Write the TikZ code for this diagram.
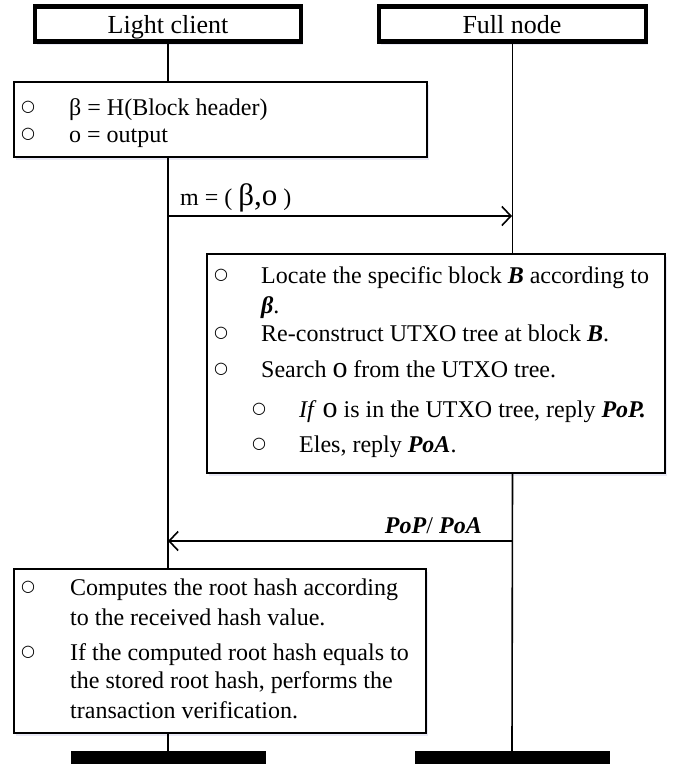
\documentclass[tikz,border=0pt]{standalone}
\usepackage{fontspec}
\setmainfont{Liberation Serif}
\newfontfamily\symfont{DejaVu Sans}
\usetikzlibrary{arrows.meta,shadows}

% bullet glyph and the enlarged "o" used for the output symbol
\newcommand{\bul}{\raisebox{4pt}{\symfont\fontsize{16}{16}\selectfont ○}}
\newcommand{\bigo}{{\fontsize{30}{30}\selectfont o}}
\newcommand{\bi}[1]{\textbf{\textit{#1}}}

\tikzset{
  soft/.style={drop shadow={shadow xshift=2pt,shadow yshift=-3pt,fill=blue!40!gray,opacity=0.12}},
  header/.style={draw,line width=4.4pt,fill=white,soft,inner sep=0pt},
  notebox/.style={draw,line width=1.8pt,fill=white,soft,inner sep=0pt},
  bar/.style={fill=black,inner sep=0pt,minimum width=195pt,minimum height=13pt},
  life/.style={line width=1.6pt},
  msg/.style={line width=1.6pt,-{Straight Barb[length=9pt,width=19pt,line width=1.6pt]}},
  txt/.style={anchor=base west,inner sep=0pt,font=\fontsize{24}{28}\selectfont},
  title/.style={anchor=base,inner sep=0pt,font=\fontsize{26}{28}\selectfont},
}

\begin{document}
\begin{tikzpicture}[x=1pt,y=-1pt]
\useasboundingbox (0,0) rectangle (677,766);

% participants
\node[header,minimum width=266pt,minimum height=35pt] (lc) at (168,24) {};
\node[header,minimum width=267pt,minimum height=35pt] (fn) at (512.5,24) {};
\node[title] (lct) at (168,33) {Light client};
\node[title] (fnt) at (512,33) {Full node};

% note boxes
\node[notebox,minimum width=413pt,minimum height=75pt] (hb) at (220.5,119.5) {};
\node[notebox,minimum width=458pt,minimum height=219pt] (big) at (436,363.5) {};
\node[notebox,minimum width=412pt,minimum height=164pt] (bb) at (220,651) {};

% end bars
\node[bar] (lbar) at (168,757.5) {};
\node[bar] (rbar) at (512,757.5) {};

% lifelines
\draw[life] (lc.south) -- (lc.south |- hb.north);
\draw[life] (lc.south |- hb.south) -- (lc.south |- bb.north);
\draw[life] (lc.south |- bb.south) -- (lbar.north);
\draw[life] (fn.south) -- (fn.south |- big.north);
\draw[life] (fn.south |- big.south) -- (rbar.north);

% messages
\coordinate (ms) at (168,216);
\coordinate (me) at (512,216);
\draw[msg] (ms) -- (me);
\node[txt] (mlabel) at (180,205) {m = ( {\fontsize{31}{31}\selectfont β,o} )};

\coordinate (rs) at (512,541);
\coordinate (re) at (168,541);
\draw[msg] (rs) -- (re);
\node[txt,anchor=base east] (rlabel) at (482,533) {\bi{PoP}/ \bi{PoA}};

% light client: preparation
\node[txt] (hb1o) at (21,115) {\bul};
\node[txt] (hb1) at (69,115) {β = H(Block header)};
\node[txt] (hb2o) at (21,142) {\bul};
\node[txt] (hb2) at (69,142) {o = output};

% full node: lookup
\node[txt] (g1o) at (214,283) {\bul};
\node[txt] (g1) at (261,283) {Locate the specific block \bi{B} according to};
\node[txt] (g1b) at (261,313) {\bi{β}.};
\node[txt] (g2o) at (214,341) {\bul};
\node[txt] (g2) at (261,341) {Re-construct UTXO tree at block \bi{B}.};
\node[txt] (g3o) at (214,377) {\bul};
\node[txt] (g3) at (261,377) {Search \bigo\ from the UTXO tree.};
\node[txt] (g4o) at (252,417) {\bul};
\node[txt] (g4) at (299,417) {\textit{If} \bigo\ is in the UTXO tree, reply \bi{PoP.}};
\node[txt] (g5o) at (252,452) {\bul};
\node[txt] (g5) at (299,452) {Eles, reply \bi{PoA}.};

% light client: verification
\node[txt] (v1o) at (21,595) {\bul};
\node[txt] (v1) at (70,595) {Computes the root hash according};
\node[txt] (v1b) at (70,625) {to the received hash value.};
\node[txt] (v2o) at (21,660) {\bul};
\node[txt] (v2) at (70,660) {If the computed root hash equals to};
\node[txt] (v2b) at (70,688) {the stored root hash, performs the};
\node[txt] (v2c) at (70,718) {transaction verification.};
\end{tikzpicture}
\end{document}
